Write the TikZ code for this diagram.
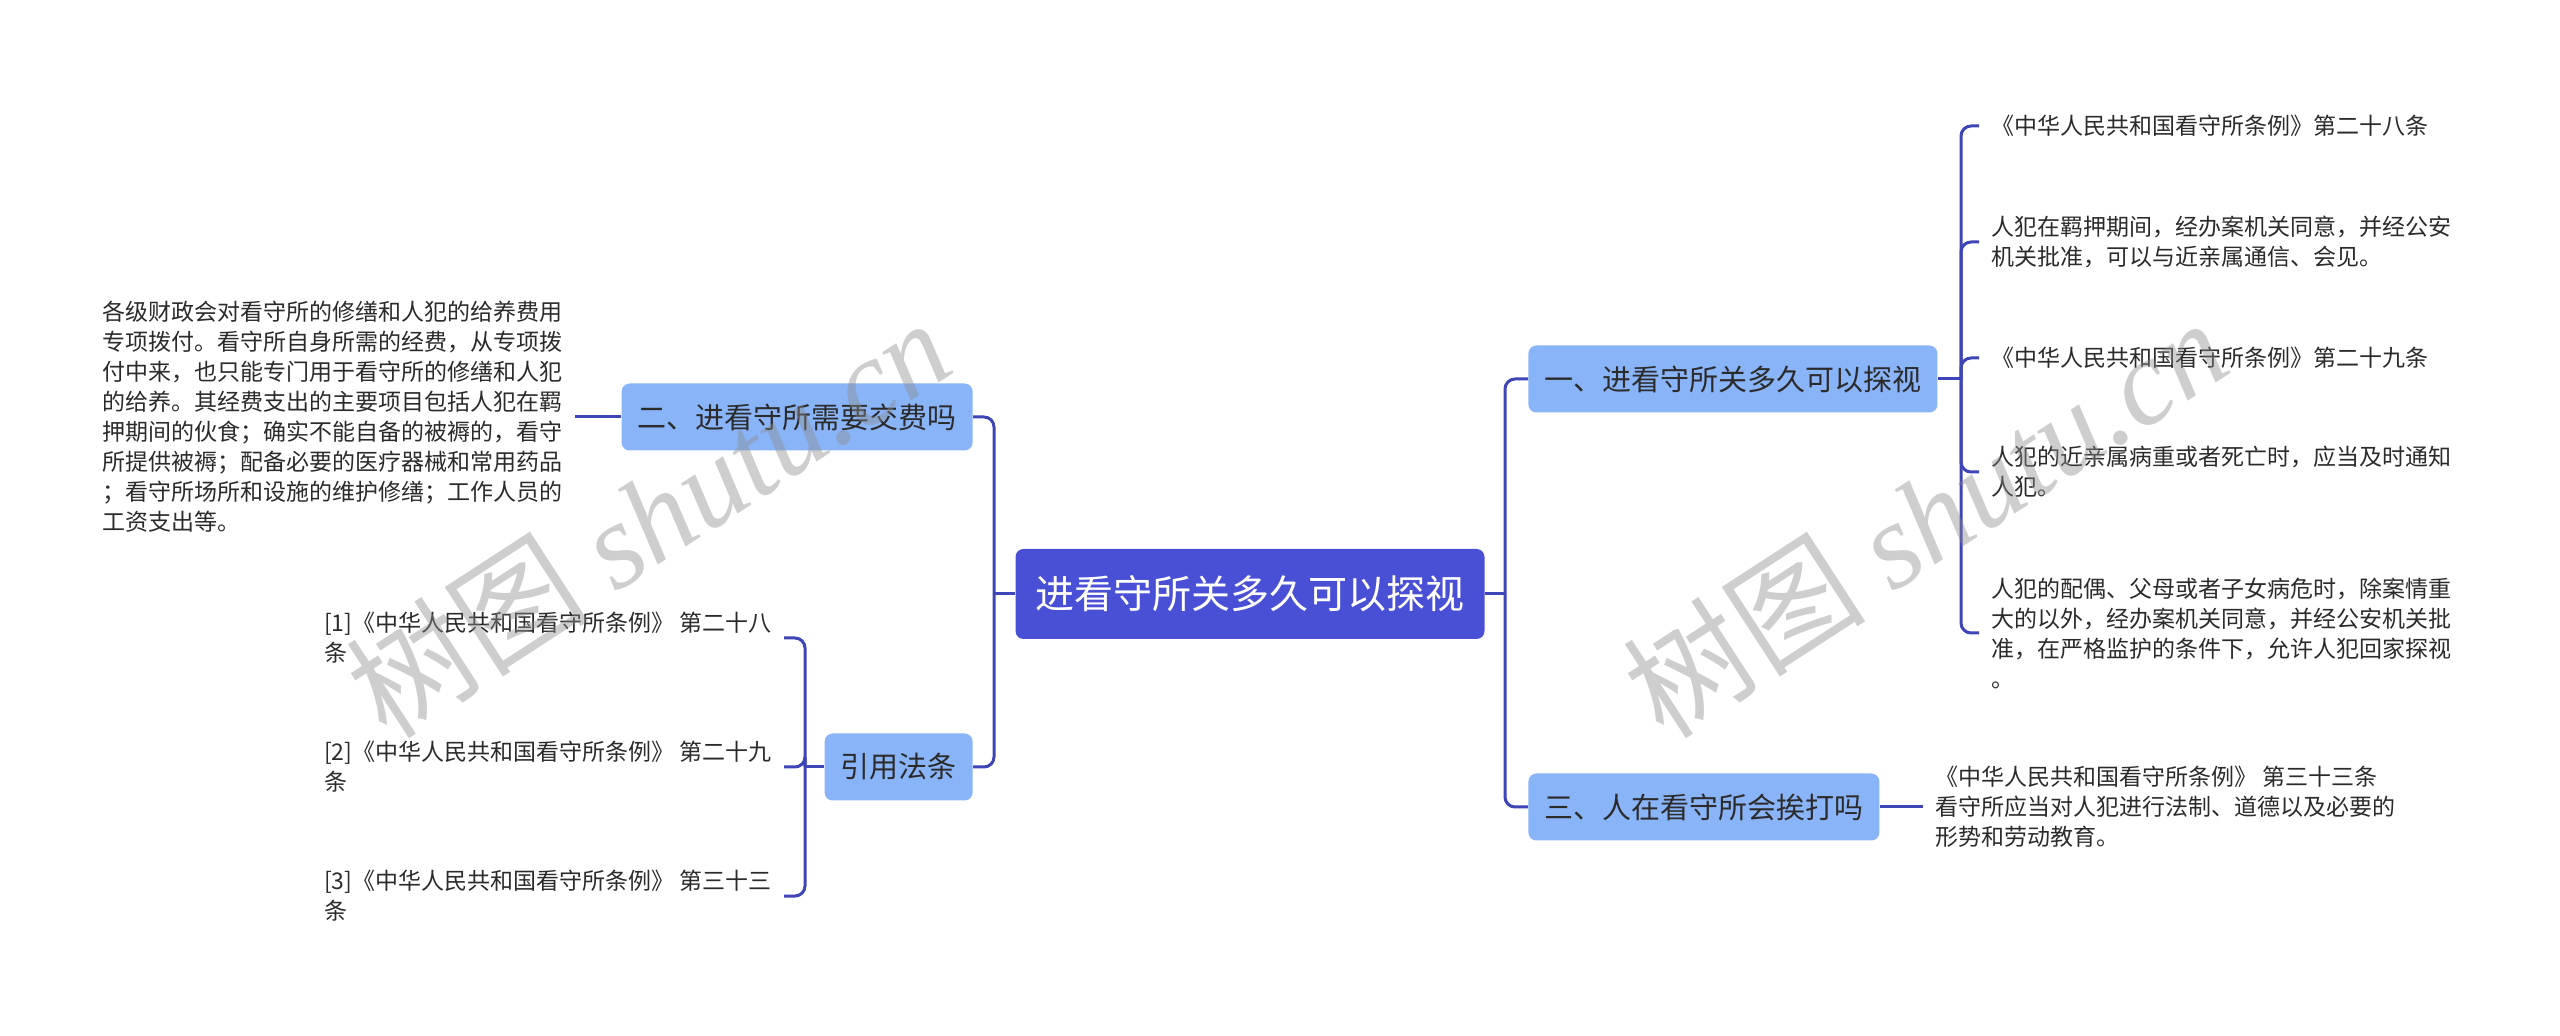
\documentclass[tikz,border=0pt]{standalone}
\usepackage{fontspec}
\setmainfont{Noto Sans CJK SC}
\newfontfamily\wmfont{Liberation Serif}
\usetikzlibrary{arrows.meta,
                shapes.geometric}

\definecolor{rootblue}{HTML}{4A50D6}
\definecolor{topicblue}{HTML}{8AB4F8}
\definecolor{linkblue}{HTML}{3E45B6}
\definecolor{txtgray}{HTML}{2B2B2B}

\begin{document}
\begin{tikzpicture}%
        [x = 0.5pt, y = -0.5pt,
         root/.style = {rounded corners = 4pt, fill = rootblue, text = white,
                        font = \fontsize{19.5}{24}\selectfont,
                        inner xsep = 10pt, minimum height = 45pt},
         topic/.style = {rounded corners = 4pt, fill = topicblue, text = txtgray,
                         font = \fontsize{14.5}{18}\selectfont,
                         inner xsep = 8pt, minimum height = 33.5pt},
         leaf/.style = {text = txtgray, align = left,
                        font = \fontsize{11.5}{15}\selectfont,
                        inner xsep = 6pt, inner ysep = 0pt},
         link/.style = {draw = linkblue, line width = 1.5pt, rounded corners = 5pt},
         wm/.style = {text = black!45, text opacity = 0.42,
                      font = \fontsize{61}{63}\selectfont}]
        \fill [white] (0,0) rectangle (2560,1036);
        \useasboundingbox (0,0) rectangle (2560,1036);

        \node [root] (ctr) at (1250,594) {进看守所关多久可以探视};

        \node [topic, anchor = east] (fee) at (973,417) {二、进看守所需要交费吗};
        \node [topic, anchor = east] (law) at (973,767) {引用法条};
        \node [topic, anchor = west] (visit) at (1528,379) {一、进看守所关多久可以探视};
        \node [topic, anchor = west] (beat) at (1528,807) {三、人在看守所会挨打吗};

        \node [leaf, anchor = east] (fee1) at (575,417)
              {各级财政会对看守所的修缮和人犯的给养费用\\
               专项拨付。看守所自身所需的经费，从专项拨\\
               付中来，也只能专门用于看守所的修缮和人犯\\
               的给养。其经费支出的主要项目包括人犯在羁\\
               押期间的伙食；确实不能自备的被褥的，看守\\
               所提供被褥；配备必要的医疗器械和常用药品\\
               ；看守所场所和设施的维护修缮；工作人员的\\
               工资支出等。};

        \node [leaf, anchor = east] (law1) at (784,638)
              {[1]《中华人民共和国看守所条例》\ 第二十八\\条};
        \node [leaf, anchor = east] (law2) at (784,767)
              {[2]《中华人民共和国看守所条例》\ 第二十九\\条};
        \node [leaf, anchor = east] (law3) at (784,896)
              {[3]《中华人民共和国看守所条例》\ 第三十三\\条};

        \node [leaf, anchor = west] (visit1) at (1979,126)
              {《中华人民共和国看守所条例》第二十八条};
        \node [leaf, anchor = west] (visit2) at (1979,242)
              {人犯在羁押期间，经办案机关同意，并经公安\\
               机关批准，可以与近亲属通信、会见。};
        \node [leaf, anchor = west] (visit3) at (1979,358)
              {《中华人民共和国看守所条例》第二十九条};
        \node [leaf, anchor = west] (visit4) at (1979,472)
              {人犯的近亲属病重或者死亡时，应当及时通知\\
               人犯。};
        \node [leaf, anchor = west] (visit5) at (1979,633)
              {人犯的配偶、父母或者子女病危时，除案情重\\
               大的以外，经办案机关同意，并经公安机关批\\
               准，在严格监护的条件下，允许人犯回家探视\\
               。};

        \node [leaf, anchor = west] (beat1) at (1923,807)
              {《中华人民共和国看守所条例》 第三十三条\\
               看守所应当对人犯进行法制、道德以及必要的\\
               形势和劳动教育。};

        \coordinate (lj) at (994,594);
        \coordinate (rj) at (1505,594);
        \coordinate (lawj) at (805,767);
        \coordinate (visitj) at (1961,379);

        \draw [link] (ctr.west) -- (lj);
        \draw [link] (lj) |- (fee.east);
        \draw [link] (lj) |- (law.east);
        \draw [link] (ctr.east) -- (rj);
        \draw [link] (rj) |- (visit.west);
        \draw [link] (rj) |- (beat.west);

        \draw [link] (fee.west) -- (fee1.east);
        \draw [link] (law.west) -- (lawj);
        \foreach \n in {law1, law2, law3}
            \draw [link] (lawj) |- (\n.east);
        \draw [link] (visit.east) -- (visitj);
        \foreach \n in {visit1, visit2, visit3, visit4, visit5}
            \draw [link] (visitj) |- (\n.west);
        \draw [link] (beat.east) -- (beat1.west);

        \node [wm, rotate = 33] (wmleft) at (648,517) {树图 {\wmfont\itshape shutu.cn}};
        \node [wm, rotate = 33] (wmright) at (1925,517) {树图 {\wmfont\itshape shutu.cn}};
\end{tikzpicture}
\end{document}
